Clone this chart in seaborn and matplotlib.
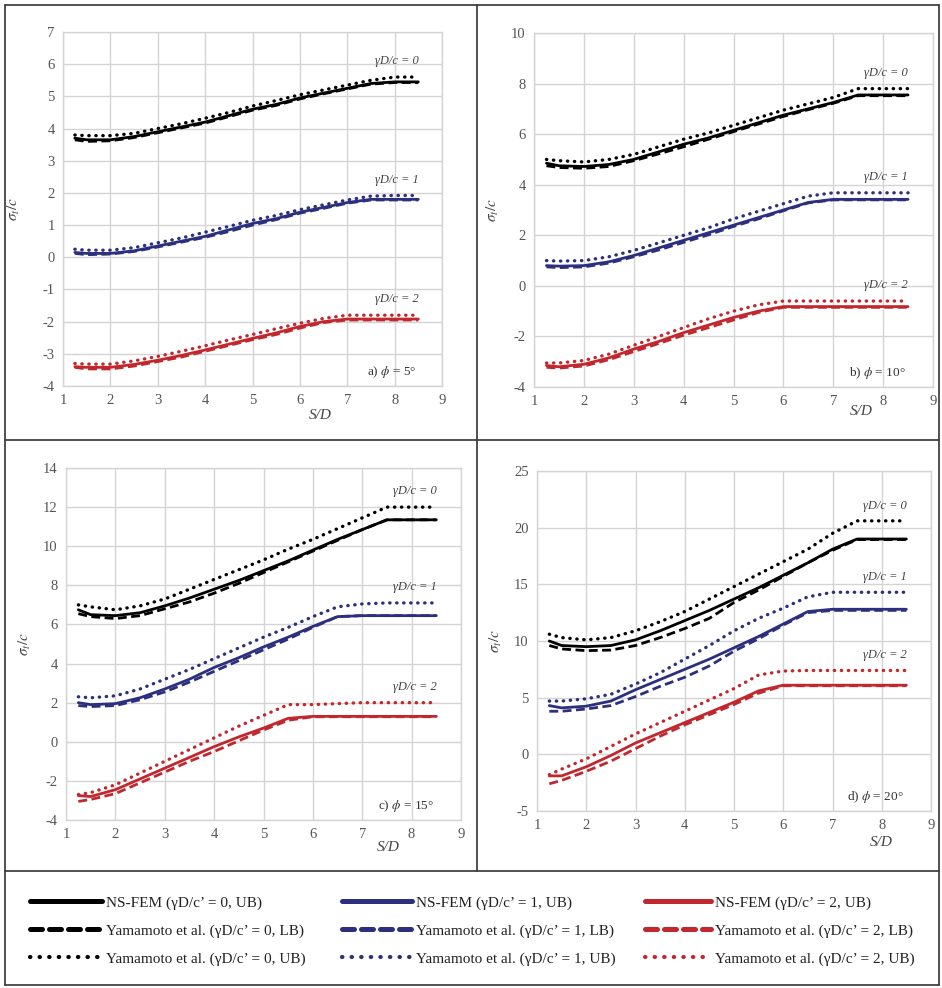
import numpy as np
import pandas as pd
import matplotlib
matplotlib.use("Agg")
import matplotlib.pyplot as plt
from matplotlib.lines import Line2D
import seaborn as sns

sns.set_style("white")
plt.rcParams['font.family'] = ['Liberation Serif', 'DejaVu Serif']
plt.rcParams['mathtext.fontset'] = 'stix'
plt.rcParams['axes.unicode_minus'] = False

# ---------------- data ----------------
sd = [1.25, 1.5, 2, 2.5, 3, 3.5, 4, 4.5, 5, 5.5, 6, 6.5, 7, 7.5, 8, 8.5]

# panel a) phi = 5
a_fem0 = [3.70, 3.65, 3.65, 3.75, 3.90, 4.05, 4.20, 4.40, 4.60, 4.75, 4.95, 5.10, 5.25, 5.40, 5.45, 5.45]
a_lb0  = [3.65, 3.60, 3.62, 3.72, 3.87, 4.02, 4.17, 4.37, 4.57, 4.72, 4.92, 5.08, 5.23, 5.38, 5.43, 5.43]
a_ub0  = [3.80, 3.78, 3.78, 3.85, 4.00, 4.15, 4.32, 4.50, 4.70, 4.87, 5.05, 5.20, 5.35, 5.50, 5.60, 5.60]
a_fem1 = [0.15, 0.12, 0.12, 0.20, 0.35, 0.50, 0.65, 0.85, 1.05, 1.20, 1.40, 1.55, 1.70, 1.80, 1.80, 1.80]
a_lb1  = [0.12, 0.08, 0.10, 0.18, 0.32, 0.47, 0.62, 0.80, 1.00, 1.17, 1.37, 1.52, 1.68, 1.78, 1.78, 1.78]
a_ub1  = [0.25, 0.22, 0.22, 0.30, 0.45, 0.60, 0.78, 0.96, 1.15, 1.30, 1.48, 1.63, 1.78, 1.90, 1.92, 1.92]
a_fem2 = [-3.40, -3.42, -3.42, -3.33, -3.20, -3.05, -2.88, -2.70, -2.52, -2.35, -2.15, -2.00, -1.92, -1.92, -1.92, -1.92]
a_lb2  = [-3.42, -3.47, -3.47, -3.38, -3.24, -3.10, -2.92, -2.74, -2.56, -2.40, -2.20, -2.03, -1.95, -1.95, -1.95, -1.95]
a_ub2  = [-3.30, -3.32, -3.32, -3.22, -3.08, -2.92, -2.75, -2.57, -2.40, -2.22, -2.05, -1.90, -1.80, -1.80, -1.80, -1.80]

# panel b) phi = 10
b_fem0 = [4.85, 4.75, 4.72, 4.80, 5.00, 5.30, 5.60, 5.85, 6.15, 6.45, 6.75, 7.00, 7.25, 7.55, 7.55, 7.55]
b_lb0  = [4.75, 4.68, 4.65, 4.72, 4.95, 5.22, 5.50, 5.80, 6.10, 6.40, 6.70, 6.97, 7.22, 7.52, 7.52, 7.52]
b_ub0  = [5.00, 4.95, 4.90, 5.00, 5.20, 5.50, 5.80, 6.05, 6.35, 6.65, 6.95, 7.20, 7.45, 7.80, 7.80, 7.80]
b_fem1 = [0.80, 0.78, 0.80, 0.95, 1.20, 1.50, 1.80, 2.10, 2.40, 2.70, 3.00, 3.30, 3.42, 3.42, 3.42, 3.42]
b_lb1  = [0.75, 0.72, 0.75, 0.90, 1.15, 1.42, 1.72, 2.02, 2.35, 2.65, 2.97, 3.28, 3.40, 3.40, 3.40, 3.40]
b_ub1  = [1.00, 0.98, 1.00, 1.15, 1.40, 1.70, 2.00, 2.30, 2.65, 2.95, 3.25, 3.55, 3.68, 3.68, 3.68, 3.68]
b_fem2 = [-3.15, -3.20, -3.10, -2.85, -2.50, -2.20, -1.85, -1.55, -1.25, -1.00, -0.82, -0.82, -0.82, -0.82, -0.82, -0.82]
b_lb2  = [-3.22, -3.25, -3.17, -2.92, -2.60, -2.28, -1.95, -1.65, -1.35, -1.05, -0.85, -0.85, -0.85, -0.85, -0.85, -0.85]
b_ub2  = [-3.05, -3.05, -2.95, -2.70, -2.35, -2.00, -1.65, -1.30, -1.00, -0.75, -0.60, -0.60, -0.60, -0.60, -0.60, -0.60]

# panel c) phi = 15
c_fem0 = [6.75, 6.50, 6.45, 6.60, 6.95, 7.35, 7.80, 8.25, 8.75, 9.25, 9.80, 10.35, 10.85, 11.35, 11.35, 11.35]
c_lb0  = [6.55, 6.40, 6.30, 6.45, 6.80, 7.15, 7.60, 8.10, 8.65, 9.20, 9.75, 10.30, 10.85, 11.35, 11.35, 11.35]
c_ub0  = [7.00, 6.90, 6.75, 6.95, 7.30, 7.80, 8.30, 8.80, 9.30, 9.85, 10.35, 10.90, 11.45, 12.00, 12.00, 12.00]
c_fem1 = [2.00, 1.90, 1.95, 2.25, 2.70, 3.20, 3.80, 4.30, 4.85, 5.35, 5.90, 6.40, 6.45, 6.45, 6.45, 6.45]
c_lb1  = [1.85, 1.80, 1.85, 2.15, 2.55, 3.05, 3.60, 4.15, 4.70, 5.25, 5.85, 6.40, 6.45, 6.45, 6.45, 6.45]
c_ub1  = [2.30, 2.25, 2.35, 2.70, 3.20, 3.70, 4.25, 4.80, 5.35, 5.85, 6.40, 6.90, 7.05, 7.10, 7.10, 7.10]
c_fem2 = [-2.75, -2.80, -2.45, -1.90, -1.35, -0.80, -0.25, 0.25, 0.70, 1.20, 1.30, 1.30, 1.30, 1.30, 1.30, 1.30]
c_lb2  = [-3.05, -2.95, -2.65, -2.10, -1.55, -1.00, -0.50, 0.05, 0.60, 1.10, 1.28, 1.28, 1.28, 1.28, 1.28, 1.28]
c_ub2  = [-2.70, -2.60, -2.20, -1.60, -1.00, -0.40, 0.20, 0.80, 1.35, 1.90, 1.90, 1.95, 2.00, 2.00, 2.00, 2.00]

# panel d) phi = 20
d_fem0 = [10.0, 9.6, 9.5, 9.6, 10.1, 10.9, 11.8, 12.7, 13.7, 14.7, 15.8, 16.9, 18.1, 19.0, 19.0, 19.0]
d_lb0  = [9.6, 9.3, 9.15, 9.2, 9.6, 10.3, 11.1, 12.0, 13.4, 14.5, 15.7, 16.9, 18.0, 18.95, 18.95, 18.95]
d_ub0  = [10.6, 10.3, 10.1, 10.3, 10.9, 11.7, 12.6, 13.7, 14.8, 15.9, 17.0, 18.1, 19.5, 20.6, 20.6, 20.6]
d_fem1 = [4.3, 4.1, 4.25, 4.7, 5.7, 6.6, 7.5, 8.4, 9.4, 10.4, 11.5, 12.6, 12.8, 12.8, 12.8, 12.8]
d_lb1  = [3.8, 3.8, 4.0, 4.3, 5.1, 6.0, 6.8, 7.8, 9.1, 10.2, 11.4, 12.5, 12.7, 12.7, 12.7, 12.7]
d_ub1  = [4.7, 4.7, 4.9, 5.3, 6.2, 7.2, 8.4, 9.6, 10.9, 12.0, 12.9, 13.9, 14.3, 14.3, 14.3, 14.3]
d_fem2 = [-1.9, -1.9, -1.1, -0.1, 1.0, 1.9, 2.8, 3.7, 4.6, 5.6, 6.1, 6.1, 6.1, 6.1, 6.1, 6.1]
d_lb2  = [-2.6, -2.3, -1.5, -0.6, 0.5, 1.6, 2.6, 3.5, 4.4, 5.4, 6.05, 6.05, 6.05, 6.05, 6.05, 6.05]
d_ub2  = [-1.8, -1.3, -0.4, 0.7, 1.8, 2.8, 3.8, 4.8, 5.8, 7.0, 7.35, 7.4, 7.4, 7.4, 7.4, 7.4]

panel_labels = ["a) ", "b) ", "c) ", "d) "]
phi_values = ["5", "10", "15", "20"]
y_limits = [(-4, 7), (-4, 10), (-4, 14), (-5, 25)]
y_steps = [1, 2, 2, 5]
gamma_labels = ["γD/c = 0", "γD/c = 1", "γD/c = 2"]
legend_labels = [
    "NS-FEM (γD/c’ = {g}, UB)",
    "Yamamoto et al. (γD/c’ = {g}, LB)",
    "Yamamoto et al. (γD/c’ = {g}, UB)",
]

panels = [
    [(a_fem0, a_lb0, a_ub0), (a_fem1, a_lb1, a_ub1), (a_fem2, a_lb2, a_ub2)],
    [(b_fem0, b_lb0, b_ub0), (b_fem1, b_lb1, b_ub1), (b_fem2, b_lb2, b_ub2)],
    [(c_fem0, c_lb0, c_ub0), (c_fem1, c_lb1, c_ub1), (c_fem2, c_lb2, c_ub2)],
    [(d_fem0, d_lb0, d_ub0), (d_fem1, d_lb1, d_ub1), (d_fem2, d_lb2, d_ub2)],
]

# ---------------- styles ----------------
colors = ["#000000", "#2B2F7E", "#C1272D"]
line_kw = [
    dict(linestyle="-", linewidth=2.0),
    dict(linestyle=(0, (3.2, 1.6)), linewidth=2.0),
    dict(linestyle=(0, (0.1, 2.0)), linewidth=2.4, dash_capstyle="round"),
]

W, H = 942, 988
fig = plt.figure(figsize=(W / 100, H / 100), dpi=100)

ax_px = [(63, 32, 442, 386), (534, 33, 933, 387), (66, 468, 461, 820), (537, 471, 931, 811)]
xlabel_pos = [(0.678, -0.082), (0.82, -0.07), (0.815, -0.077), (0.873, -0.094)]
ylabel_x = [-0.108, -0.083, -0.084, -0.084]

tick_color = "#555555"
grid_color = "#d4d4d4"

for i, (l, t, r, b) in enumerate(ax_px):
    ax = fig.add_axes([l / W, 1 - b / H, (r - l) / W, (b - t) / H])
    ymin, ymax = y_limits[i]
    rng = ymax - ymin
    for g, trio in enumerate(panels[i]):
        for k, vals in enumerate(trio):
            df = pd.DataFrame({"S/D": sd, "q": vals})
            sns.lineplot(data=df, x="S/D", y="q", ax=ax, color=colors[g],
                         sort=False, estimator=None, **line_kw[k])
        ub_end = trio[2][-1]
        ax.text(8.5, ub_end + 0.045 * rng, gamma_labels[g], ha="right", va="center",
                fontsize=9, style="italic", color="#444444")
    ax.text(8.45, ymin + 0.04 * rng, panel_labels[i] + r"$\phi$ = " + phi_values[i] + "°",
            ha="right", va="center", fontsize=9.5, color="#333333")
    ax.set_xlim(1, 9)
    ax.set_ylim(ymin, ymax)
    ax.set_xticks(range(1, 10))
    ax.set_yticks(np.arange(ymin, ymax + 0.01, y_steps[i]))
    ax.grid(True, color=grid_color, linewidth=1.0)
    for s in ax.spines.values():
        s.set_color(grid_color)
        s.set_linewidth(1.0)
    ax.tick_params(axis="both", length=0, labelsize=10.5, labelcolor=tick_color, pad=6)
    ax.set_xlabel("S/D", fontsize=11, style="italic", color="#444444", va="center")
    ax.xaxis.set_label_coords(*xlabel_pos[i])
    ax.set_ylabel(r"$\sigma_t/c$", fontsize=11, color="#444444")
    ax.yaxis.set_label_coords(ylabel_x[i], 0.5)

# ---------------- legend (three columns) ----------------
leg_kw = [
    dict(linestyle="-", linewidth=3.6, solid_capstyle="round"),
    dict(linestyle=(0, (2.4, 1.4)), linewidth=3.6, dash_capstyle="round"),
    dict(linestyle=(0, (0.1, 2.2)), linewidth=3.0, dash_capstyle="round"),
]
col_x = [30, 342, 645]
col_handlelen = [4.7, 4.6, 4.3]
for g in range(3):
    handles = [Line2D([], [], color=colors[g], **leg_kw[k]) for k in range(3)]
    labels = [legend_labels[k].format(g=g) for k in range(3)]
    leg = fig.legend(handles, labels, ncol=1, loc="center left",
                     bbox_to_anchor=(col_x[g] / W, 1 - 931 / H), frameon=False,
                     fontsize=11, handlelength=col_handlelen[g], handletextpad=0.25,
                     labelspacing=0.92, borderaxespad=0, borderpad=0)
    for txt in leg.get_texts():
        txt.set_color("#222222")

# ---------------- frame lines ----------------
frame_color = "#333333"
def fline(x0, y0, x1, y1):
    fig.add_artist(Line2D([x0 / W, x1 / W], [1 - y0 / H, 1 - y1 / H],
                          transform=fig.transFigure, color=frame_color, linewidth=1.2))

fline(5, 5, 939, 5)
fline(5, 985, 939, 985)
fline(5, 5, 5, 985)
fline(939, 5, 939, 985)
fline(477, 5, 477, 871)
fline(5, 440, 939, 440)
fline(5, 871, 939, 871)

fig.savefig("out.png", dpi=100)
